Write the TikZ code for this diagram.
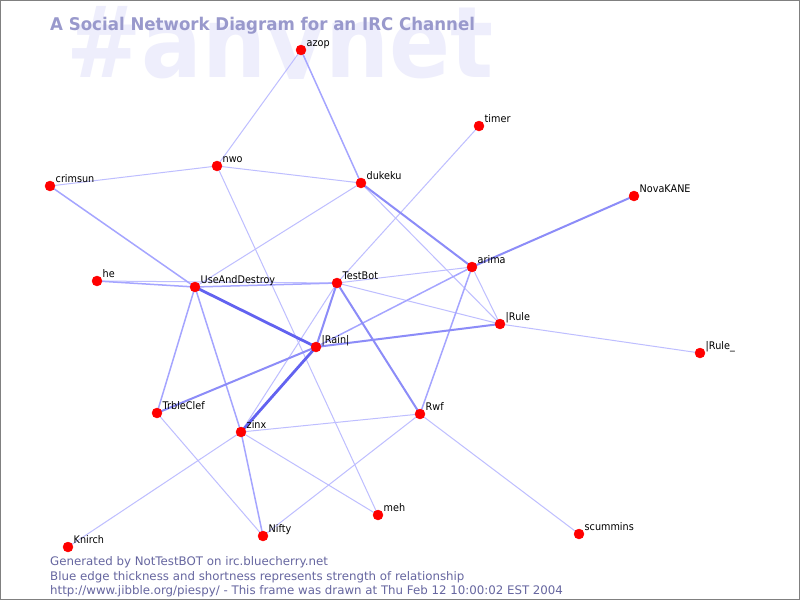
\documentclass[tikz,border=0pt]{standalone}
\usepackage{fontspec}
\usepackage{tkz-euclide}
\setmainfont{DejaVu Sans}
\newfontfamily\nickfont[FakeStretch=0.92]{DejaVu Sans}
\newfontfamily\titlefont[FakeStretch=0.95]{DejaVu Sans}
\newfontfamily\markfont[FakeStretch=0.91]{DejaVu Sans}
\definecolor{edgeThin}{RGB}{190,190,255}
\definecolor{edgeMid}{RGB}{165,165,255}
\definecolor{edgeWide}{RGB}{140,140,248}
\definecolor{edgeStrong}{RGB}{98,98,240}
\definecolor{titleBlue}{RGB}{153,153,204}
\definecolor{footBlue}{RGB}{102,102,160}
\definecolor{markBlue}{RGB}{238,238,252}
\tikzset{
  edgeA/.style={draw=edgeThin, line width=1pt},
  edgeB/.style={draw=edgeMid, line width=1.5pt},
  edgeC/.style={draw=edgeWide, line width=2pt},
  edgeD/.style={draw=edgeStrong, line width=2.8pt},
  nick/.style={anchor=base west, xshift=5.5pt, yshift=4pt, inner sep=0pt, font=\nickfont\fontsize{10.5}{12}\selectfont},
  footline/.style={anchor=base west, inner sep=0pt, text=footBlue, font=\fontsize{11.8}{13}\selectfont}
}
\newcommand{\myShowNicks}[1]{
\foreach \p/\t in {#1} {\tkzLabelPoint[nick](\p){\t}}
}

\begin{document}
\begin{tikzpicture}[x=1pt,y=-1pt]
	\useasboundingbox (0,0) rectangle (800,600);
	\fill[white] (0,0) rectangle (800,600);
	% watermark and title
	\begin{scope}
	\clip (0,0) rectangle (800,78);
	\node[anchor=base west, inner sep=0pt, text=markBlue, font=\markfont\bfseries\fontsize{99}{99}\selectfont] (mark) at (66,77) {\#anynet};
	\end{scope}
	\node[anchor=base west, inner sep=0pt, text=titleBlue, font=\titlefont\bfseries\fontsize{17.5}{20}\selectfont] (title) at (50,30) {A Social Network Diagram for an IRC Channel};
	% the nicks
	\tkzDefPoints{301/50/azop, 479/126/timer, 217/166/nwo, 50/186/crimsun,
	  361/183/dukeku, 634/196/nova, 472/267/arima, 97/281/he,
	  195/287/uad, 337/283/testbot, 500/324/irule, 316/347/rain,
	  700/353/iruleb, 157/413/trble, 420/414/rwf, 241/432/zinx,
	  378/515/meh, 263/536/nifty, 579/534/scummins, 68/547/knirch}
	% thin edges
	\tkzDrawSegments[edgeA](azop,nwo nwo,crimsun nwo,dukeku nwo,meh dukeku,uad
	  dukeku,irule timer,testbot he,testbot testbot,zinx testbot,irule
	  testbot,arima arima,irule irule,iruleb trble,nifty zinx,knirch
	  zinx,meh zinx,rwf rwf,nifty rwf,scummins)
	% medium edges
	\tkzDrawSegments[edgeB](azop,dukeku crimsun,uad he,uad uad,testbot
	  uad,trble uad,zinx rain,arima arima,rwf zinx,nifty)
	% wide edges
	\tkzDrawSegments[edgeC](dukeku,arima nova,arima testbot,rain testbot,rwf
	  rain,trble rain,irule)
	% strongest edges
	\tkzDrawSegments[edgeD](uad,rain rain,zinx)
	% red dots
	\tkzDrawPoints[color=red, fill=red, size=10](azop,timer,nwo,crimsun,dukeku,nova,
	  arima,he,uad,testbot,irule,rain,iruleb,trble,rwf,zinx,meh,nifty,scummins,knirch)
	% show nicks
	\myShowNicks{azop/azop, timer/timer, nwo/nwo, crimsun/crimsun, dukeku/dukeku,
	  nova/NovaKANE, arima/arima, he/he, uad/UseAndDestroy, testbot/TestBot,
	  irule/{|Rule}, rain/{|Rain|}, iruleb/{|Rule\_}, trble/TrbleClef, rwf/Rwf,
	  zinx/zinx, meh/meh, nifty/Nifty, scummins/scummins, knirch/Knirch}
	% footer
	\node[footline] (gen) at (50,565) {Generated by NotTestBOT on irc.bluecherry.net};
	\node[footline] (legend) at (50,580) {Blue edge thickness and shortness represents strength of relationship};
	\node[footline] (url) at (50,594) {http://www.jibble.org/piespy/ - This frame was drawn at Thu Feb 12 10:00:02 EST 2004};
	\draw[gray] (0.5,0.5) rectangle (799.5,599.5);
\end{tikzpicture}
\end{document}
